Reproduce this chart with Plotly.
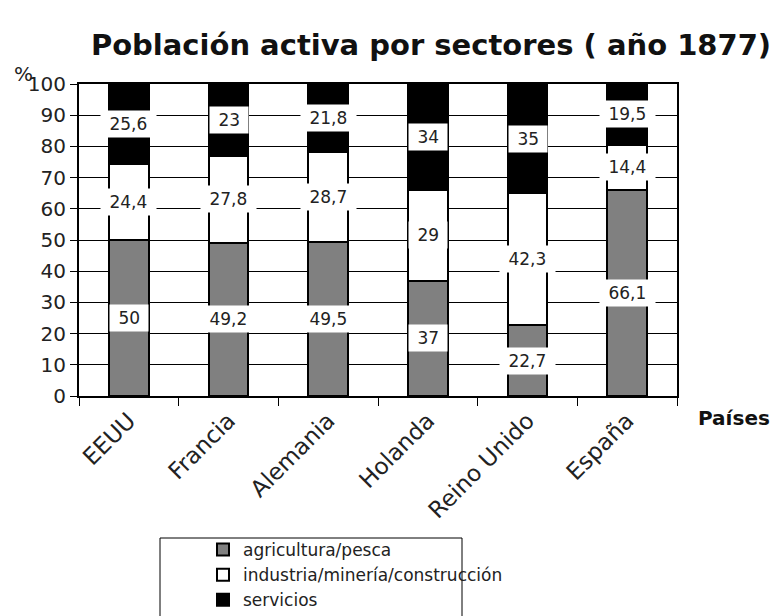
import plotly.graph_objects as go

countries = ["EEUU", "Francia", "Alemania", "Holanda", "Reino Unido", "España"]
agricultura = [50, 49.2, 49.5, 37, 22.7, 66.1]
industria = [24.4, 27.8, 28.7, 29, 42.3, 14.4]
servicios = [25.6, 23, 21.8, 34, 35, 19.5]
series_names = ["agricultura/pesca", "industria/minería/construcción", "servicios"]
y_ticks = list(range(0, 101, 10))

FONT = "DejaVu Sans, Liberation Sans, Arial, sans-serif"
colors = ["#808080", "#ffffff", "#000000"]
series = [agricultura, industria, servicios]

# the page has an 8px body margin; plot area target in page pixels
OFF = 8
W, H = 782, 616
PL, PR, PT, PB = 79, 677, 84, 396
pw, ph = PR - PL, PB - PT
L, T = PL - OFF, PT - OFF
R, B = W - L - pw, H - T - ph

def px(x):
    return (x - PL) / pw
def py(y):
    return (PB - y) / ph

fig = go.Figure()
for name, vals, col in zip(series_names, series, colors):
    fig.add_trace(go.Bar(
        x=countries, y=vals, name=name, width=0.4,
        marker=dict(color=col, line=dict(color="black", width=2)),
        hoverinfo="skip",
    ))

def fmt(v):
    return f"{v:g}".replace(".", ",")

annotations = []
for i, c in enumerate(countries):
    base = 0
    for vals in series:
        v = vals[i]
        annotations.append(dict(
            x=c, y=base + v / 2, xref="x", yref="y",
            text="\u00a0" + fmt(v) + "\u00a0", showarrow=False,
            font=dict(family=FONT, size=17, color="#222222"),
            bgcolor="white", borderpad=3,
        ))
        base += v

annotations.append(dict(
    x=px(23), y=py(74), xref="paper", yref="paper", text="%", showarrow=False,
    xanchor="center", yanchor="middle",
    font=dict(family=FONT, size=20, color="#222222"),
))
annotations.append(dict(
    x=px(734), y=py(418), xref="paper", yref="paper", text="<b>Países</b>",
    showarrow=False, xanchor="center", yanchor="middle",
    font=dict(family=FONT, size=20, color="#111111"),
))

fig.update_layout(
    width=W, height=H,
    margin=dict(l=L, r=R, t=T, b=B, autoexpand=False),
    paper_bgcolor="white", plot_bgcolor="white",
    barmode="stack",
    title=dict(
        text="<b>Población activa por sectores ( año 1877)</b>",
        x=(431 - OFF) / W, xref="container", xanchor="center",
        y=1 - (45 - OFF) / H, yref="container", yanchor="middle",
        font=dict(family=FONT, size=29, color="#111111"),
    ),
    font=dict(family=FONT, color="#222222"),
    xaxis=dict(
        showline=True, linecolor="black", linewidth=2, mirror=True,
        ticks="outside", ticklen=8, tickcolor="black", tickwidth=1,
        tickson="boundaries", tickangle=-45, showgrid=False, automargin=False,
        tickfont=dict(family=FONT, size=23, color="#222222"),
    ),
    yaxis=dict(
        range=[0, 100], tickvals=y_ticks, automargin=False,
        showline=True, linecolor="black", linewidth=2, mirror=True,
        ticks="outside", ticklen=7, tickcolor="black", tickwidth=1,
        showgrid=True, gridcolor="black", gridwidth=1, zeroline=False,
        tickfont=dict(family=FONT, size=20, color="#222222"),
    ),
    legend=dict(
        x=px(203), y=py(532), xanchor="left", yanchor="top",
        traceorder="normal", bgcolor="rgba(0,0,0,0)", borderwidth=0,
        font=dict(family=FONT, size=17, color="#222222"),
        tracegroupgap=0,
    ),
    shapes=[dict(
        type="rect", xref="paper", yref="paper",
        x0=px(160), x1=px(462), y0=py(538), y1=py(640),
        line=dict(color="black", width=1), fillcolor="rgba(0,0,0,0)",
        layer="below",
    )],
    annotations=annotations,
    showlegend=True,
)

fig.write_html("out.html")
